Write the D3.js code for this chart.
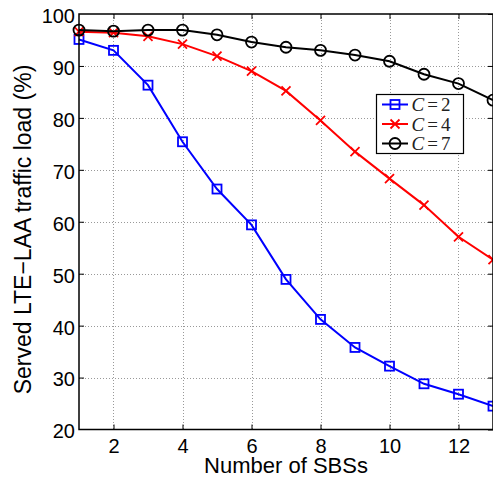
<!DOCTYPE html>
<html>
<head>
<meta charset="utf-8">
<script src="https://cdn.jsdelivr.net/npm/d3@7"></script>
<style>
    body { margin: 0; background: #fff; }
    svg { display: block; }
    .tick-label { font-family: "Liberation Sans", Arial, sans-serif; font-size: 20px; fill: #000; }
    .axis-title { font-family: "Liberation Sans", Arial, sans-serif; font-size: 22px; fill: #000; }
</style>
</head>
<body>
<script>
// x values: number of SBSs
const sbs = [1, 2, 3, 4, 5, 6, 7, 8, 9, 10, 11, 12, 13]
const loadC2 = [95.1, 93.0, 86.3, 75.4, 66.3, 59.4, 48.9, 41.2, 35.8, 32.2, 28.8, 26.8, 24.5]
const loadC4 = [96.6, 96.4, 95.7, 94.2, 91.9, 89.0, 85.2, 79.5, 73.5, 68.3, 63.2, 57.1, 52.7]
const loadC7 = [96.9, 96.7, 96.9, 96.9, 96.0, 94.6, 93.6, 93.0, 92.1, 90.9, 88.4, 86.6, 83.4]
const xTicks = [2, 4, 6, 8, 10, 12]
const yTicks = [20, 30, 40, 50, 60, 70, 80, 90, 100]

const series = [
    { name: '2', values: loadC2, color: '#0000ff', marker: 'square' },
    { name: '4', values: loadC4, color: '#ff0000', marker: 'cross' },
    { name: '7', values: loadC7, color: '#000000', marker: 'circle' }
]

var width = 493, height = 477
var margin = { left: 79, top: 14, right: 493, bottom: 429.5 }

var svg = d3.select('body')
    .append('svg')
    .attr('width', width)
    .attr('height', height)

var x = d3.scaleLinear().domain([1, 13]).range([margin.left, margin.right])
var y = d3.scaleLinear().domain([20, 100]).range([margin.bottom, margin.top])

// dotted grid
function makeGrid() {
    var grid = svg.append('g')
        .attr('stroke', '#999')
        .attr('stroke-width', 1)
        .attr('stroke-dasharray', '1,2')
    grid.selectAll('.vgrid')
        .data(xTicks)
        .enter()
        .append('line')
        .attr('x1', d => Math.round(x(d)) + 0.5)
        .attr('x2', d => Math.round(x(d)) + 0.5)
        .attr('y1', margin.top)
        .attr('y2', margin.bottom)
    grid.selectAll('.hgrid')
        .data(yTicks.slice(1, -1))
        .enter()
        .append('line')
        .attr('y1', d => Math.round(y(d)) + 0.5)
        .attr('y2', d => Math.round(y(d)) + 0.5)
        .attr('x1', margin.left)
        .attr('x2', margin.right)
}

function styleAxis(g, showLabels) {
    g.select('.domain').remove()
    g.selectAll('.tick line').attr('stroke', '#000').attr('stroke-width', 1)
    if (showLabels) {
        g.selectAll('.tick text').attr('class', 'tick-label').attr('font-size', null).attr('font-family', null)
    } else {
        g.selectAll('.tick text').remove()
    }
}

function makeAxes() {
    svg.append('g')
        .attr('transform', 'translate(0,' + margin.bottom + ')')
        .call(d3.axisBottom(x).tickValues(xTicks).tickSize(-5).tickPadding(9.3))
        .call(g => styleAxis(g, true))

    svg.append('g')
        .attr('transform', 'translate(0,' + margin.top + ')')
        .call(d3.axisTop(x).tickValues(xTicks).tickSize(-5))
        .call(g => styleAxis(g, false))

    var left = svg.append('g')
        .attr('transform', 'translate(' + margin.left + ',0)')
        .call(d3.axisLeft(y).tickValues(yTicks).tickSize(-5).tickPadding(4))
        .call(g => styleAxis(g, true))
    left.selectAll('.tick text').attr('dy', '0.42em')
    left.selectAll('.tick line').filter(d => d == 20 || d == 100).remove()

    svg.append('g')
        .attr('transform', 'translate(' + margin.right + ',0)')
        .call(d3.axisRight(y).tickValues(yTicks).tickSize(-5))
        .call(g => styleAxis(g, false))

    // box
    svg.append('path')
        .attr('d', 'M' + margin.right + ',' + margin.top + 'H' + margin.left + 'V' + margin.bottom + 'H' + margin.right + 'V' + margin.top)
        .attr('fill', 'none')
        .attr('stroke', '#000')
        .attr('stroke-width', 1.5)

    svg.append('text')
        .attr('class', 'axis-title')
        .attr('x', (margin.left + margin.right) / 2)
        .attr('y', 473)
        .attr('text-anchor', 'middle')
        .text('Number of SBSs')

    svg.append('text')
        .attr('class', 'axis-title')
        .attr('font-size', 23)
        .style('font-size', '23px')
        .attr('transform', 'translate(31,229.5) rotate(-90)')
        .attr('text-anchor', 'middle')
        .text('Served LTE\u2212LAA traffic load (%)')
}

function drawMarker(g, type, color) {
    if (type == 'square') {
        g.append('rect')
            .attr('x', -4.5).attr('y', -4.5)
            .attr('width', 9).attr('height', 9)
            .attr('fill', 'none').attr('stroke', color).attr('stroke-width', 1.8)
    } else if (type == 'cross') {
        g.append('path')
            .attr('d', 'M-4.5,-4.5L4.5,4.5M-4.5,4.5L4.5,-4.5')
            .attr('stroke', color).attr('stroke-width', 1.8)
    } else {
        g.append('circle')
            .attr('r', 5.5)
            .attr('fill', 'none').attr('stroke', color).attr('stroke-width', 1.8)
    }
}

function makeSeries() {
    var line = d3.line().x(d => x(d[0])).y(d => y(d[1]))
    series.forEach(function (s) {
        var pts = sbs.map((v, i) => [v, s.values[i]])
        var g = svg.append('g')
        g.append('path')
            .datum(pts)
            .attr('d', line)
            .attr('fill', 'none')
            .attr('stroke', s.color)
            .attr('stroke-width', 2)
        g.selectAll('.marker')
            .data(pts)
            .enter()
            .append('g')
            .attr('transform', d => 'translate(' + x(d[0]) + ',' + y(d[1]) + ')')
            .each(function () { drawMarker(d3.select(this), s.marker, s.color) })
    })
}

function makeLegend() {
    var legend = svg.append('g').attr('transform', 'translate(376,94)')
    legend.append('rect')
        .attr('x', 0.5).attr('y', 0.5)
        .attr('width', 87).attr('height', 59)
        .attr('fill', '#fff').attr('stroke', '#000').attr('stroke-width', 1.2)
    series.forEach(function (s, i) {
        var cy = 10.5 + i * 19.5
        legend.append('line')
            .attr('x1', 6).attr('x2', 32)
            .attr('y1', cy).attr('y2', cy)
            .attr('stroke', s.color).attr('stroke-width', 2)
        var m = legend.append('g').attr('transform', 'translate(19,' + cy + ')')
        drawMarker(m, s.marker, s.color)
        var t = legend.append('text')
            .attr('x', 35.5)
            .attr('y', cy + 6.5)
            .attr('font-family', '"Liberation Serif", "DejaVu Serif", serif')
            .attr('font-size', 19)
            .attr('fill', '#222')
        t.append('tspan').attr('font-style', 'italic').text('C')
        t.append('tspan').attr('dx', 3).text('=')
        t.append('tspan').attr('dx', 3).text(s.name)
    })
}

makeGrid()
makeSeries()
makeAxes()
makeLegend()
</script>
</body>
</html>
